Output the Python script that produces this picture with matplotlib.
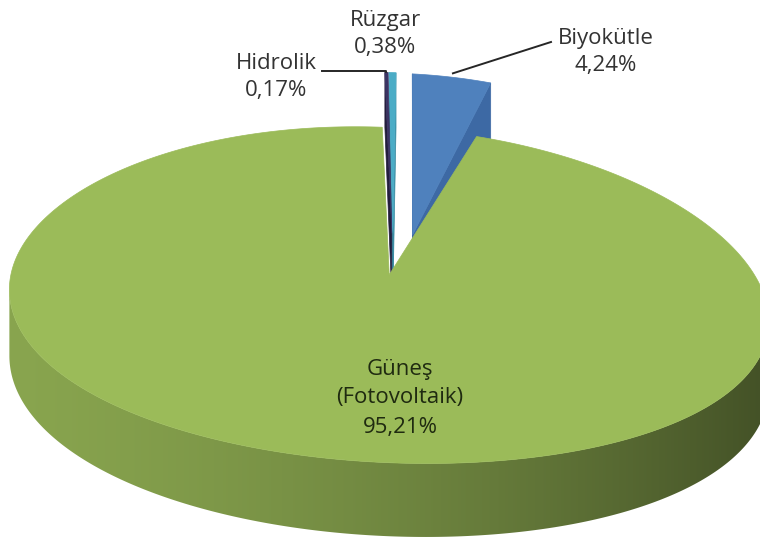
import matplotlib.pyplot as plt
from matplotlib.patches import Polygon
from matplotlib.colors import to_rgb
import numpy as np

# data (Excel order, clockwise from 12 o'clock)
labels = ['Biyokütle', 'Güneş\n(Fotovoltaik)', 'Hidrolik', 'Rüzgar']
values = [4.24, 95.21, 0.17, 0.38]
colors = ['#4F81BD', '#9BBB59', '#3B3363', '#4BACC6']
cut_colors = ['#3D69A4', '#7E9A45', '#221D3C', '#3A8CA3']
explode = [0.185, 0.08, 0.18, 0.18]
explode_turn = [9, 0, 0, 0]      # degrees added to the explosion direction
stretch = [1.18, 1.0, 1.18, 1.18]

# label layout (pixel coords)
label_pos = [(606, 52), (400, 398), (276, 77), (385, 34)]

# fake 3D view parameters
OX, OY = 393, 262
A, B = 368, 162
KX, KY = 0.18, 0.12
S = 16
H = 64
START = 0.6


def proj(u, v, z):
    x = OX + A * u / (1 + KX * v)
    y = OY + (-B * v + S * u + H * z) / (1 + KY * v)
    return np.column_stack([np.atleast_1d(x), np.atleast_1d(y)])


def cross(p0, p1, p2):
    return (p1[0] - p0[0]) * (p2[1] - p0[1]) - (p1[1] - p0[1]) * (p2[0] - p0[0])


def wall_shade(u):
    return 0.72 - 0.22 * u - 0.06 * u ** 2


fig = plt.figure(figsize=(7.6, 5.41), dpi=100)
ax = fig.add_axes([0, 0, 1, 1])

total = sum(values)
edges = START + 360 * np.concatenate([[0], np.cumsum(values)]) / total

slices = []
for i, val in enumerate(values):
    t0, t1 = edges[i], edges[i + 1]
    m = np.radians((t0 + t1) / 2 + explode_turn[i])
    cu, cv = explode[i] * np.sin(m), explode[i] * np.cos(m)
    th = np.radians(np.linspace(t0, t1, max(int((t1 - t0) * 2) + 2, 3)))
    ru, rv = cu + np.sin(th), cv + stretch[i] * np.cos(th)
    slices.append(dict(i=i, cv=cv, th=th,
                       top=proj(ru, rv, 0), bot=proj(ru, rv, 1),
                       at=proj(cu, cv, 0)[0], ab=proj(cu, cv, 1)[0]))

z = 1
for s in sorted(slices, key=lambda s: -s['cv']):
    i = s['i']
    top, bot, at, ab = s['top'], s['bot'], s['at'], s['ab']
    # outer wall, shaded with a horizontal gradient
    vis = [j for j in range(len(top) - 1) if cross(top[j], top[j + 1], bot[j]) < 0]
    if vis:
        j0, j1 = vis[0], vis[-1] + 1
        poly = np.vstack([top[j0:j1 + 1], bot[j0:j1 + 1][::-1]])
        patch = Polygon(poly, closed=True, fc='none', ec='none')
        ax.add_patch(patch)
        xs = np.linspace(poly[:, 0].min(), poly[:, 0].max(), 500)
        u = np.clip((xs - OX) / A, -1, 1)
        rgb = np.clip(np.array(to_rgb(colors[i]))[None, :] * wall_shade(u)[:, None], 0, 1)
        im = ax.imshow(rgb[None, :, :], aspect='auto', interpolation='bilinear',
                       extent=[xs[0], xs[-1], poly[:, 1].max(), poly[:, 1].min()],
                       zorder=z)
        im.set_clip_path(patch)
        z += 1
    # cut faces
    if cross(at, top[0], ab) < 0:
        ax.add_patch(Polygon([at, top[0], bot[0], ab], closed=True, zorder=z,
                             fc=cut_colors[i], ec=cut_colors[i], lw=0.5))
    if cross(at, ab, top[-1]) < 0:
        ax.add_patch(Polygon([at, top[-1], bot[-1], ab], closed=True, zorder=z,
                             fc=cut_colors[i], ec=cut_colors[i], lw=0.5))
    z += 1
    # top face
    ax.add_patch(Polygon(np.vstack([at, top]), closed=True, zorder=z,
                         fc=colors[i], ec=colors[i], lw=0.5))
    z += 1

# labels
for i, lab in enumerate(labels):
    pct = f'{values[i]:.2f}%'.replace('.', ',')
    x, y = label_pos[i]
    ax.text(x, y, lab + '\n' + pct, ha='center', va='center', zorder=z,
            fontsize=16, family=['Open Sans', 'DejaVu Sans'],
            color='#1f2a10' if i == 1 else '#333333',
            linespacing=1.5 if i == 1 else 1.32)

# leader lines from slice rims
p = slices[0]['top'][len(slices[0]['top']) // 2]
ax.plot([p[0], 551], [p[1] - 4, 42], color='#262626', lw=1.4, zorder=z)
p = slices[2]['top'][len(slices[2]['top']) // 2]
ax.plot([p[0], p[0], 322], [p[1], 71, 71], color='#262626', lw=1.4, zorder=z)

ax.set_xlim(0, 760)
ax.set_ylim(541, 0)
ax.axis('off')
fig.savefig('out.png', dpi=100)
